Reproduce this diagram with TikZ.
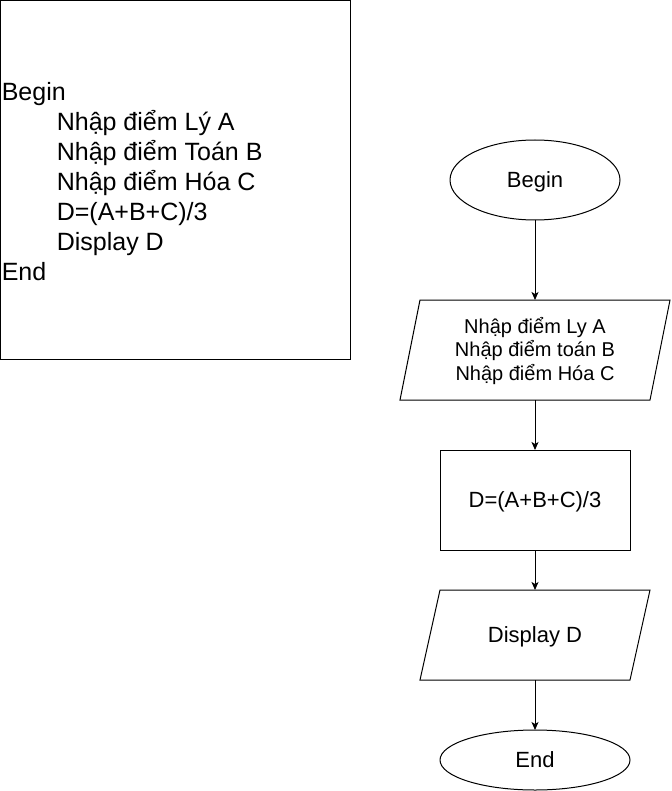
\documentclass[tikz,border=0pt]{standalone}
\usepackage{fontspec}
\setmainfont{Liberation Sans}
\usetikzlibrary{arrows.meta,shapes.geometric}
\begin{document}
\begin{tikzpicture}[x=1pt,y=-1pt,
  every node/.style={inner sep=0pt,outer sep=0pt},
  ln/.style={line width=1pt,draw=black},
  arr/.style={line width=1pt,-{Stealth[length=8pt,width=7pt,inset=2pt]}},
  codeline/.style={anchor=base west,font=\fontsize{25}{30}\selectfont},
  shapetxt/.style={font=\fontsize{22}{26}\selectfont,text height=15.8pt,text depth=0pt},
  termbox/.style={ellipse,ln},
  procbox/.style={rectangle,ln}
]
\useasboundingbox (0,0) rectangle (671,791);
% left pseudo-code box
\draw[line width=1pt] (0.5,0.5) rectangle (350,359.5);
\node[codeline] (l1) at (1.8,100.5) {Begin};
\node[codeline] (l2) at (56.8,130.5) {Nhập điểm Lý A};
\node[codeline] (l3) at (56.8,160.5) {Nhập điểm Toán B};
\node[codeline] (l4) at (56.8,190.5) {Nhập điểm Hóa C};
\node[codeline] (l5) at (56.8,220.5) {D=(A+B+C)/3};
\node[codeline] (l6) at (56.8,250.5) {Display D};
\node[codeline] (l7) at (1.8,280.5) {End};
% flowchart
\node[termbox,minimum width=170pt,minimum height=80pt] (begin) at (535,180) {};
\node[shapetxt] (begintxt) at (begin.center) {Begin};
\node[minimum width=270pt,minimum height=100pt] (input) at (535,350) {};
\draw[ln] ([xshift=20pt]input.north west) -- (input.north east) -- ([xshift=-20pt]input.south east) -- (input.south west) -- cycle;
\node[align=center,font=\fontsize{20}{23.2}\selectfont] (inputtxt) at (535,351) {Nhập điểm Ly A\\Nhập điểm toán B\\Nhập điểm Hóa C};
\node[procbox,minimum width=190pt,minimum height=100pt] (calc) at (535,500) {};
\node[shapetxt] (calctxt) at (calc.center) {D=(A+B+C)/3};
\node[minimum width=230pt,minimum height=90pt] (disp) at (535,635) {};
\draw[ln] ([xshift=20pt]disp.north west) -- (disp.north east) -- ([xshift=-20pt]disp.south east) -- (disp.south west) -- cycle;
\node[shapetxt] (disptxt) at (disp.center) {Display D};
\node[termbox,minimum width=190pt,minimum height=60pt] (end) at (535,760) {};
\node[shapetxt] (endtxt) at (end.center) {End};
% connectors
\draw[arr] (begin) -- (input);
\draw[arr] (input) -- (calc);
\draw[arr] (calc) -- (disp);
\draw[arr] (disp) -- (end);
\end{tikzpicture}
\end{document}
